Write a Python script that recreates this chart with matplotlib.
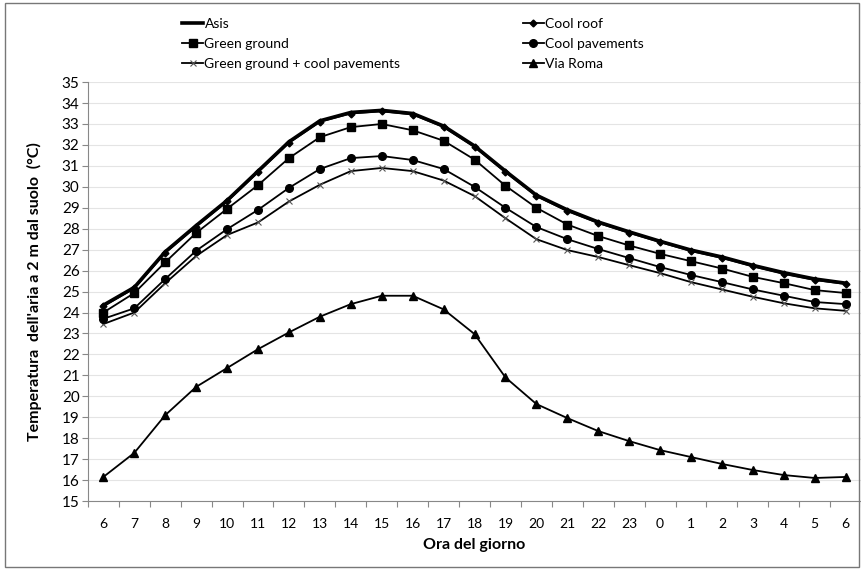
import numpy as np
import matplotlib.pyplot as plt
from matplotlib.patches import Rectangle

plt.rcParams['font.family'] = ['Lato', 'DejaVu Sans']

# Hours of the day (categories)
hours = ['6', '7', '8', '9', '10', '11', '12', '13', '14', '15', '16', '17', '18',
         '19', '20', '21', '22', '23', '0', '1', '2', '3', '4', '5', '6']

# Air temperature at 2 m (°C)
asis = [24.35, 25.2, 26.9, 28.15, 29.35, 30.75, 32.15, 33.15, 33.55, 33.65, 33.5, 32.9,
        31.95, 30.75, 29.6, 28.9, 28.32, 27.85, 27.4, 26.98, 26.65, 26.25, 25.9, 25.6, 25.4]
cool_roof = [24.3, 25.15, 26.85, 28.1, 29.3, 30.7, 32.1, 33.1, 33.5, 33.6, 33.45, 32.85,
             31.9, 30.7, 29.56, 28.84, 28.27, 27.8, 27.36, 26.93, 26.6, 26.2, 25.84, 25.55, 25.36]
green_ground = [24.0, 24.93, 26.4, 27.8, 28.95, 30.08, 31.37, 32.37, 32.85, 33.0, 32.7, 32.2,
                31.3, 30.05, 29.0, 28.2, 27.65, 27.2, 26.8, 26.45, 26.1, 25.7, 25.4, 25.07, 24.93]
cool_pavements = [23.7, 24.2, 25.6, 26.95, 27.98, 28.9, 29.95, 30.85, 31.37, 31.47, 31.28, 30.85,
                  30.0, 29.0, 28.08, 27.5, 27.03, 26.6, 26.17, 25.79, 25.45, 25.1, 24.8, 24.5, 24.4]
gg_cool_pav = [23.45, 24.0, 25.4, 26.7, 27.7, 28.3, 29.3, 30.1, 30.75, 30.9, 30.75, 30.3,
               29.56, 28.5, 27.5, 26.98, 26.65, 26.26, 25.88, 25.45, 25.1, 24.75, 24.44, 24.2, 24.08]
via_roma = [16.15, 17.3, 19.1, 20.45, 21.35, 22.25, 23.05, 23.8, 24.4, 24.8, 24.8, 24.15,
            22.97, 20.9, 19.63, 18.96, 18.34, 17.86, 17.43, 17.1, 16.77, 16.48, 16.24, 16.1, 16.15]

x = np.arange(len(hours))

fig = plt.figure(figsize=(8.62, 5.70), dpi=100)
ax = fig.add_axes([0.102, 0.121, 0.897, 0.735])

ax.plot(x, asis, color='black', lw=2.6, label='Asis')
ax.plot(x, green_ground, color='black', lw=1.3, marker='s', ms=6, label='Green ground')
ax.plot(x, gg_cool_pav, color='black', lw=1.3, marker='x', ms=5, mew=0.8,
        mec='#555555', label='Green ground + cool pavements')
ax.plot(x, cool_roof, color='black', lw=1.3, marker='D', ms=3.5, label='Cool roof')
ax.plot(x, cool_pavements, color='black', lw=1.3, marker='o', ms=5.5, label='Cool pavements')
ax.plot(x, via_roma, color='black', lw=1.3, marker='^', ms=5.5, label='Via Roma')

ax.set_xlim(-0.5, len(hours) - 0.5)
ax.set_ylim(15, 35)
ax.set_yticks(np.arange(15, 36, 1))
ax.tick_params(axis='y', labelsize=11, length=4, color='#888888', pad=2)

# category axis: tick marks between categories, labels at centers
ax.set_xticks(np.arange(-0.5, len(hours), 1))
ax.set_xticklabels([])
ax.set_xticks(x, minor=True)
ax.set_xticklabels(hours, minor=True, fontsize=10)
ax.tick_params(axis='x', which='major', length=4, color='#888888')
ax.tick_params(axis='x', which='minor', length=0, pad=12)

ax.yaxis.grid(True, color='#e4e4e4', lw=0.8)
ax.set_axisbelow(True)
for s in ['top', 'right']:
    ax.spines[s].set_visible(False)
ax.spines['left'].set_color('#888888')
ax.spines['bottom'].set_color('#888888')

ax.set_xlabel('Ora del giorno', fontsize=11.5, fontweight='bold', labelpad=6)
ax.set_ylabel("Temperatura  dell'aria a 2 m dal suolo  (°C)", fontsize=11.5,
              fontweight='bold', labelpad=14)

leg = fig.legend(loc='upper left', bbox_to_anchor=(0.205, 0.978), ncol=2, frameon=False,
                 fontsize=10, handlelength=1.5, handletextpad=0.1, columnspacing=8.8,
                 labelspacing=0.58, borderaxespad=0)

fig.patches.append(Rectangle((0.006, 0.006), 0.99, 0.988, transform=fig.transFigure,
                             fill=False, edgecolor='#777777', lw=1))

fig.savefig('out.png', dpi=100)
